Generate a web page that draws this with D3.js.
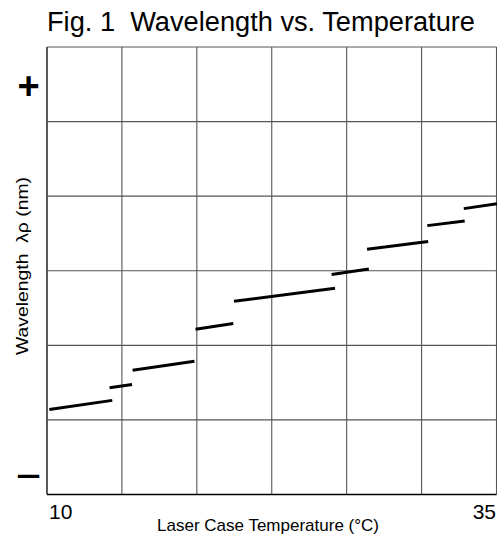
<!DOCTYPE html>
<html><head><meta charset="utf-8">
<script src="https://cdn.jsdelivr.net/npm/d3@7"></script>
<style>body{margin:0;background:#fff;} svg{display:block;font-family:"Liberation Sans",Arial,sans-serif;} text{white-space:pre;}</style>
</head><body>
<svg id="c" width="497" height="537"></svg>
<script>
// Temperature (°C) endpoints of each mode segment
const segX0 = [10.13, 13.48, 14.76, 18.26, 20.40, 25.83, 27.80, 31.15, 33.18];
const segX1 = [13.63, 14.73, 18.20, 20.36, 26.02, 27.90, 31.20, 33.23, 35.10];
// Relative wavelength (grid units, 0 = bottom, 6 = top)
const segY0 = [1.141, 1.430, 1.667, 2.216, 2.591, 2.949, 3.288, 3.605, 3.833];
const segY1 = [1.262, 1.476, 1.788, 2.293, 2.766, 3.024, 3.391, 3.667, 3.900];
const xTicks = [10, 35];
const yGrid = [0, 1, 2, 3, 4, 5, 6];
const xGrid = [10, 14.1667, 18.3333, 22.5, 26.6667, 30.8333, 35];

const svg = d3.select("#c");
const L = 47, R = 496.5, T = 47, B = 494.5;
const x = d3.scaleLinear().domain([10, 35]).range([L, R]);
const y = d3.scaleLinear().domain([0, 6]).range([B, T]);

svg.append("text").attr("x", 47).attr("y", 31).attr("font-size", 27).attr("fill", "#000")
  .attr("textLength", 428).attr("lengthAdjust", "spacingAndGlyphs")
  .text("Fig. 1  Wavelength vs. Temperature");

const g = svg.append("g");
g.selectAll("line.v").data(xGrid).enter().append("line")
  .attr("x1", d => x(d)).attr("x2", d => x(d)).attr("y1", T).attr("y2", B)
  .attr("stroke", d => d === 10 ? "#000" : "#555").attr("stroke-width", d => d === 10 ? 1.3 : 1.1);
g.selectAll("line.h").data(yGrid).enter().append("line")
  .attr("y1", d => y(d)).attr("y2", d => y(d)).attr("x1", L).attr("x2", R)
  .attr("stroke", d => d === 0 ? "#000" : "#555").attr("stroke-width", d => d === 0 ? 1.3 : 1.1);

const segs = segX0.map((d, i) => ({x0: d, x1: segX1[i], y0: segY0[i], y1: segY1[i]}));
svg.append("g").selectAll("line").data(segs).enter().append("line")
  .attr("x1", d => x(d.x0)).attr("x2", d => Math.min(x(d.x1), 497)).attr("y1", d => y(d.y0)).attr("y2", d => y(d.y1))
  .attr("stroke", "#000").attr("stroke-width", 3);

// + and - markers
svg.append("text").attr("x", 28.5).attr("y", 99).attr("text-anchor", "middle").attr("font-size", 38).attr("font-weight", "bold").text("+");
svg.append("text").attr("x", 28.5).attr("y", 491).attr("text-anchor", "middle").attr("font-size", 44).text("\u2212");

svg.selectAll("text.xt").data(xTicks).enter().append("text")
  .attr("x", d => d === 10 ? 49 : 496).attr("y", 519).attr("text-anchor", d => d === 10 ? "start" : "end")
  .attr("font-size", 21).text(d => d);

svg.append("text").attr("x", 268).attr("y", 531).attr("text-anchor", "middle").attr("font-size", 17)
  .text("Laser Case Temperature (°C)");

svg.append("text").attr("transform", "translate(28,266) rotate(-90)").attr("text-anchor", "middle").attr("font-size", 17)
  .attr("textLength", 178).attr("lengthAdjust", "spacingAndGlyphs")
  .text("Wavelength  λρ (nm)");
</script>
</body></html>
